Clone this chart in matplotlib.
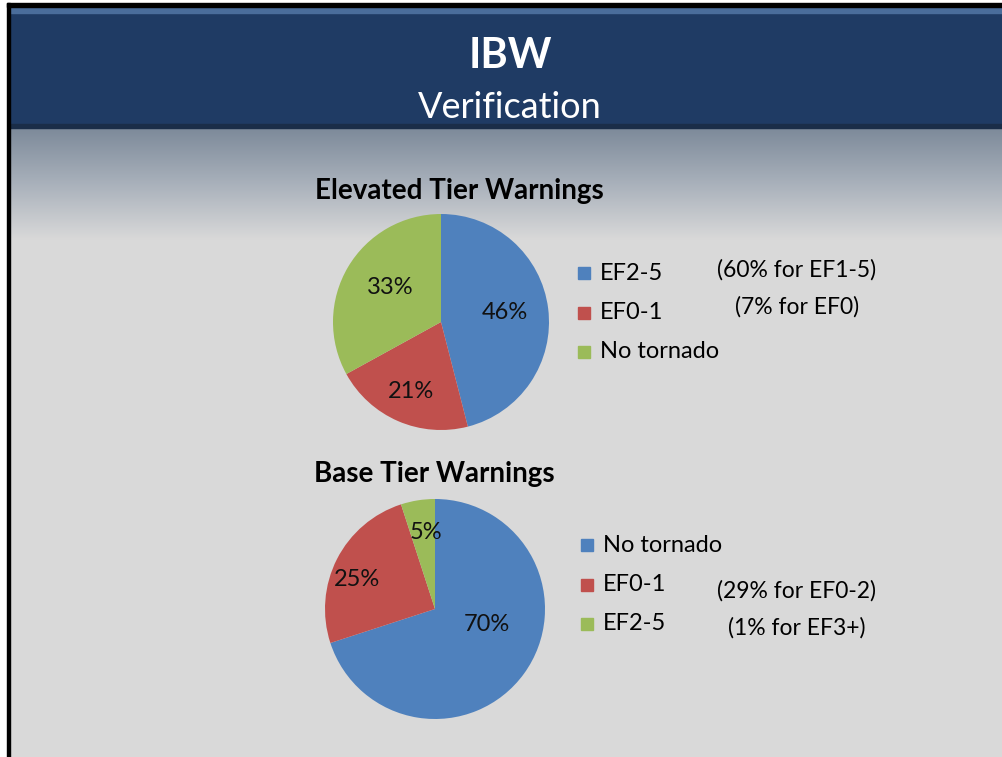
import numpy as np
import matplotlib.pyplot as plt
from matplotlib.colors import LinearSegmentedColormap
from matplotlib.patches import Rectangle

plt.rcParams["font.family"] = ["Lato", "DejaVu Sans"]

W, H = 1003, 757

# slide data
elev_labels = ["EF2-5", "EF0-1", "No tornado"]
elev_values = [46, 21, 33]
elev_notes = ["(60% for EF1-5)", "(7% for EF0)"]

base_labels = ["No tornado", "EF0-1", "EF2-5"]
base_values = [70, 25, 5]
base_notes = ["(29% for EF0-2)", "(1% for EF3+)"]

colors = ["#4F81BD", "#C0504D", "#9BBB59"]

fig = plt.figure(figsize=(W / 100, H / 100), dpi=100)
bg = fig.add_axes([0, 0, 1, 1])
bg.set_xlim(0, W)
bg.set_ylim(H, 0)
bg.axis("off")

# body: grey gradient under the header, flat below
grad = LinearSegmentedColormap.from_list("g", ["#7d8a9a", "#a9b1bb", "#d9d9d9"])
ramp = np.linspace(0, 1, 200).reshape(-1, 1)
bg.add_patch(Rectangle((0, 0), W, H, color="white", zorder=0))
bg.add_patch(Rectangle((10, 128), W, H, color="#d9d9d9", zorder=1))
bg.imshow(ramp, cmap=grad, extent=(10, W, 240, 128), aspect="auto", zorder=2)

# header band
bg.add_patch(Rectangle((10, 7), W, 120, color="#1f3b64", zorder=3))
bg.add_patch(Rectangle((10, 8), W, 5, color="#4a6d9b", zorder=4))
bg.add_patch(Rectangle((10, 124), W, 4, color="#1a2d48", zorder=4))

# black frame on top and left
bg.add_patch(Rectangle((7, 3), W, 4, color="black", zorder=5))
bg.add_patch(Rectangle((7, 3), 3, H, color="black", zorder=5))

bg.text(510, 56, "IBW", color="white", fontsize=30, fontweight="bold",
        ha="center", va="center", zorder=6)
bg.text(510, 107, "Verification", color="white", fontsize=26,
        ha="center", va="center", zorder=6)

bg.text(459, 191, "Elevated Tier Warnings", fontsize=20, fontweight="bold",
        ha="center", va="center", zorder=6)
bg.text(434, 474, "Base Tier Warnings", fontsize=20, fontweight="bold",
        ha="center", va="center", zorder=6)


def draw_pie(cx, cy, r, values, labels, notes, label_dist, label_turn,
             leg_x, leg_y, note_y):
    ax = fig.add_axes([(cx - r) / W, 1 - (cy + r) / H, 2 * r / W, 2 * r / H])
    wedges, _, pcts = ax.pie(values, colors=colors, startangle=90,
                             counterclock=False, autopct="%d%%", radius=1,
                             textprops=dict(fontsize=17, color="#111111"))
    # best-fit style placement of the percentages
    for w, t, d, turn in zip(wedges, pcts, label_dist, label_turn):
        mid = np.deg2rad((w.theta1 + w.theta2) / 2 + turn)
        t.set_position((d * np.cos(mid), d * np.sin(mid)))
    ax.set_xlim(-1, 1)
    ax.set_ylim(-1, 1)
    ax.set_aspect("auto")
    for i, lab in enumerate(labels):
        y = leg_y + i * 39.5
        bg.add_patch(Rectangle((leg_x - 6, y - 6), 12, 12, color=colors[i], zorder=6))
        bg.text(leg_x + 16, y, lab, fontsize=17, ha="left", va="center", zorder=6)
    for j, note in enumerate(notes):
        bg.text(797, note_y + j * 37, note, fontsize=16.5, ha="center",
                va="center", zorder=6)


draw_pie(441, 322, 108, elev_values, elev_labels, elev_notes,
         [0.6, 0.7, 0.57], [1.5, 0, -3.5], 584, 273, 270)
draw_pie(435, 609, 110, base_values, base_labels, base_notes,
         [0.49, 0.76, 0.7], [19, 6.5, -2], 587, 545, 591)

plt.savefig("out.png", dpi=100)
